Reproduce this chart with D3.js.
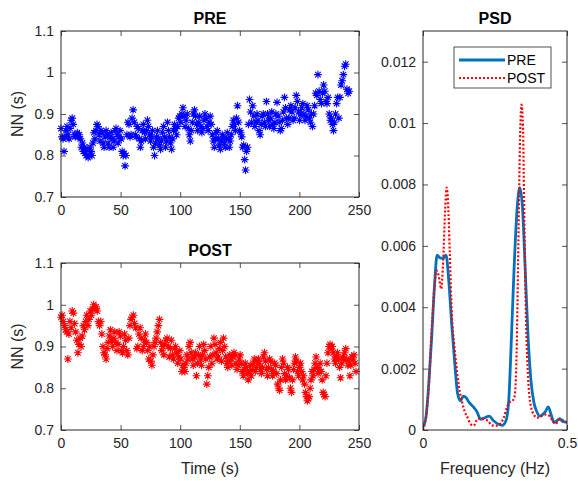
<!DOCTYPE html>
<html>
<head>
<meta charset="utf-8">
<script src="https://cdn.jsdelivr.net/npm/d3@7"></script>
<style>
  html, body { margin: 0; padding: 0; background: #fff; }
  svg { display: block; }
  text { font-family: "Liberation Sans", Arial, Helvetica, sans-serif; fill: #262626; }
</style>
</head>
<body>
<svg id="fig" width="578" height="481"></svg>
<script>
// NN intervals (s), beat by beat; time axis is their running sum
const preNN = [
  0.865, 0.845, 0.84, 0.81, 0.845, 0.86, 0.87, 0.85, 0.84, 0.865, 0.885, 0.89,
  0.875, 0.85, 0.845, 0.85, 0.855, 0.845, 0.85, 0.84, 0.82, 0.83, 0.81, 0.82,
  0.805, 0.80, 0.815, 0.795, 0.80, 0.82, 0.81, 0.80, 0.83, 0.855, 0.84, 0.86,
  0.875, 0.87, 0.85, 0.835, 0.86, 0.855, 0.83, 0.82, 0.845, 0.86, 0.85, 0.83,
  0.82, 0.845, 0.855, 0.84, 0.82, 0.835, 0.86, 0.865, 0.85, 0.83, 0.845, 0.86,
  0.84, 0.81, 0.80, 0.805, 0.775, 0.80, 0.85, 0.88, 0.875, 0.845, 0.85, 0.89,
  0.91, 0.88, 0.85, 0.845, 0.87, 0.865, 0.84, 0.82, 0.835, 0.86, 0.875, 0.855,
  0.84, 0.86, 0.885, 0.87, 0.85, 0.835, 0.845, 0.86, 0.82, 0.80, 0.83, 0.845,
  0.86, 0.84, 0.825, 0.815, 0.835, 0.855, 0.87, 0.845, 0.82, 0.835, 0.88, 0.86,
  0.845, 0.83, 0.815, 0.84, 0.86, 0.875, 0.865, 0.85, 0.87, 0.89, 0.895, 0.88,
  0.90, 0.915, 0.895, 0.87, 0.885, 0.90, 0.865, 0.85, 0.835, 0.86, 0.88,
  0.90, 0.91, 0.895, 0.875, 0.86, 0.88, 0.895, 0.87, 0.855, 0.865, 0.885,
  0.90, 0.89, 0.87, 0.86, 0.88, 0.895, 0.875, 0.85, 0.835, 0.82, 0.84, 0.855,
  0.86, 0.84, 0.825, 0.815, 0.835, 0.85, 0.845, 0.83, 0.82, 0.84, 0.855, 0.84,
  0.82, 0.835, 0.85, 0.87, 0.885, 0.875, 0.86, 0.89, 0.92, 0.88, 0.86, 0.855,
  0.845, 0.82, 0.825, 0.79, 0.765, 0.81, 0.82, 0.875, 0.935, 0.905, 0.88, 0.92,
  0.895, 0.87, 0.88, 0.90, 0.885, 0.86, 0.85, 0.875, 0.895, 0.90, 0.88, 0.87,
  0.93, 0.90, 0.885, 0.87, 0.89, 0.905, 0.875, 0.865, 0.88, 0.90, 0.928, 0.895,
  0.88, 0.86, 0.865, 0.885, 0.905, 0.94, 0.915, 0.89, 0.875, 0.89, 0.91,
  0.92, 0.905, 0.885, 0.89, 0.915, 0.945, 0.93, 0.905, 0.885, 0.90, 0.915,
  0.925, 0.90, 0.885, 0.895, 0.92, 0.91, 0.89, 0.88, 0.90, 0.87, 0.90,
  0.92, 0.95, 0.945, 0.995, 0.955, 0.935, 0.925, 0.95, 0.97, 0.955, 0.93,
  0.925, 0.94, 0.90, 0.885, 0.89, 0.875, 0.86, 0.88, 0.90, 0.925, 0.94,
  0.89, 0.94, 0.97, 0.98, 0.995, 1.015, 1.02, 0.96, 0.95, 0.955
];

const postNN = [
  0.97, 0.975, 0.96, 0.95, 0.94, 0.935, 0.87, 0.93, 0.96, 0.945, 0.985,
  0.98, 0.955, 0.935, 0.915, 0.885, 0.905, 0.92, 0.90, 0.925, 0.95, 0.94,
  0.96, 0.975, 0.95, 0.965, 0.985, 0.975, 0.99, 1.0, 0.99, 0.995,
  0.985, 0.96, 0.95, 0.96, 0.93, 0.90, 0.885, 0.88, 0.87, 0.895, 0.91,
  0.925, 0.94, 0.915, 0.90, 0.92, 0.935, 0.91, 0.89, 0.905, 0.935, 0.925,
  0.89, 0.885, 0.90, 0.93, 0.915, 0.89, 0.88, 0.92, 0.95, 0.965, 0.97,
  0.975, 0.955, 0.945, 0.895, 0.90, 0.93, 0.945, 0.92, 0.89, 0.90, 0.915,
  0.93, 0.91, 0.89, 0.87, 0.90, 0.865, 0.855, 0.88, 0.90, 0.91, 0.92,
  0.935, 0.95, 0.965, 0.91, 0.89, 0.90, 0.88, 0.905, 0.915, 0.92, 0.90,
  0.875, 0.895, 0.915, 0.88, 0.87, 0.895, 0.90, 0.885, 0.86, 0.875, 0.89,
  0.87, 0.84, 0.855, 0.85, 0.84, 0.86, 0.88, 0.87, 0.90, 0.91, 0.885,
  0.87, 0.855, 0.875, 0.885, 0.83, 0.86, 0.88, 0.90, 0.87, 0.855, 0.88, 0.905,
  0.89, 0.87, 0.81, 0.83, 0.85, 0.875, 0.90, 0.86, 0.88, 0.92, 0.905,
  0.885, 0.87, 0.875, 0.895, 0.91, 0.865, 0.89, 0.92, 0.90, 0.875, 0.86,
  0.85, 0.865, 0.88, 0.87, 0.855, 0.875, 0.885, 0.88, 0.86, 0.845, 0.855, 0.87,
  0.88, 0.86, 0.84, 0.83, 0.845, 0.86, 0.85, 0.835, 0.82, 0.84, 0.855, 0.83,
  0.845, 0.86, 0.87, 0.84, 0.85, 0.865, 0.87, 0.86, 0.845, 0.835, 0.85,
  0.875, 0.885, 0.865, 0.845, 0.83, 0.85, 0.87, 0.865, 0.845, 0.83, 0.84, 0.86,
  0.855, 0.835, 0.81, 0.80, 0.795, 0.82, 0.85, 0.87, 0.86, 0.835, 0.82, 0.83,
  0.85, 0.845, 0.825, 0.80, 0.79, 0.82, 0.845, 0.86, 0.875, 0.865, 0.84, 0.83,
  0.85, 0.86, 0.84, 0.82, 0.83, 0.81, 0.79, 0.78, 0.77, 0.775, 0.78, 0.80,
  0.82, 0.84, 0.83, 0.845, 0.86, 0.875, 0.85, 0.835, 0.845, 0.86, 0.84, 0.82,
  0.79, 0.785, 0.78, 0.83, 0.86, 0.885, 0.90, 0.905, 0.895, 0.90, 0.885,
  0.87, 0.86, 0.875, 0.885, 0.87, 0.85, 0.825, 0.86, 0.875, 0.87, 0.885, 0.895,
  0.87, 0.855, 0.865, 0.83, 0.855, 0.875, 0.87, 0.88, 0.86, 0.84
];

// power spectral density
const preFreq = [0, 0.01, 0.02, 0.03, 0.04, 0.049, 0.06, 0.07, 0.08, 0.09, 0.10, 0.11, 0.12, 0.13, 0.14, 0.15,
  0.16, 0.175, 0.187, 0.20, 0.215, 0.23, 0.245, 0.26, 0.275, 0.288, 0.298, 0.307, 0.316, 0.326, 0.336,
  0.345, 0.355, 0.365, 0.375, 0.385, 0.395, 0.405, 0.415, 0.425, 0.435, 0.445, 0.455, 0.465, 0.475, 0.485, 0.50];
const prePsd = [0.0001, 0.0004, 0.0015, 0.003, 0.0047, 0.0057, 0.0056, 0.0056, 0.0057, 0.0048, 0.0034, 0.0022,
  0.0012, 0.00095, 0.0011, 0.00105, 0.0009, 0.00075, 0.0006, 0.00035, 0.0004, 0.00045, 0.0003, 0.0002, 0.00015,
  0.0003, 0.001, 0.003, 0.0052, 0.0071, 0.0079, 0.0073, 0.0052, 0.003, 0.0016, 0.0009, 0.0006, 0.00045, 0.0005,
  0.0006, 0.00075, 0.0005, 0.00025, 0.0003, 0.00037, 0.00028, 0.00025];

const postFreq = [0, 0.01, 0.02, 0.03, 0.04, 0.047, 0.055, 0.063, 0.07, 0.077, 0.082, 0.087, 0.093, 0.10, 0.108,
  0.116, 0.125, 0.136, 0.145, 0.155, 0.165, 0.176, 0.185, 0.195, 0.21, 0.225, 0.24, 0.255, 0.268, 0.28, 0.29,
  0.30, 0.31, 0.318, 0.325, 0.331, 0.337, 0.342, 0.347, 0.352, 0.358, 0.365, 0.374, 0.385, 0.395, 0.41, 0.425,
  0.44, 0.45, 0.46, 0.475, 0.49, 0.50];
const postPsd = [0, 0.0004, 0.0014, 0.0032, 0.0047, 0.0052, 0.005, 0.0046, 0.0055, 0.0072, 0.0079, 0.0074, 0.0058,
  0.0038, 0.0028, 0.0021, 0.0014, 0.0009, 0.0006, 0.0004, 0.0002, 0.00014, 0.0003, 0.00037, 0.00035, 0.0003,
  0.00015, 0.00014, 0.0002, 0.0004, 0.0007, 0.0009, 0.00095, 0.0011, 0.0025, 0.006, 0.0095, 0.0106, 0.0099,
  0.0068, 0.0035, 0.0017, 0.0008, 0.0005, 0.0004, 0.00045, 0.0005, 0.00045, 0.0003, 0.0002, 0.00035, 0.0003, 0.00025];

const timeTicks = [0, 50, 100, 150, 200, 250];
const nnTicks = [0.7, 0.8, 0.9, 1, 1.1];
const freqTicks = [0, 0.5];
const psdTicks = [0, 0.002, 0.004, 0.006, 0.008, 0.01, 0.012];
const legendNames = ["PRE", "POST"];

const svg = d3.select("#fig");
const axisColor = "#262626";

function toSeries(nn) {
    let t = 0;
    return nn.map((v, i) => {
        if (i > 0) t += nn[i - 1];
        return { t: t, nn: v };
    });
}

// MATLAB-like box axes with inward ticks on all four sides
function drawFrame(g, x, y, xTicks, yTicks, w, h) {
    const tick = 5;
    g.append("g")
        .attr("transform", `translate(0,${h})`)
        .call(d3.axisBottom(x).tickValues(xTicks).tickSizeInner(-tick).tickSizeOuter(0)
            .tickPadding(8).tickFormat(d => String(d)));
    g.append("g")
        .call(d3.axisTop(x).tickValues(xTicks).tickSizeInner(-tick).tickSizeOuter(0).tickFormat(""));
    g.append("g")
        .call(d3.axisLeft(y).tickValues(yTicks).tickSizeInner(-tick).tickSizeOuter(0)
            .tickPadding(7).tickFormat(d => String(d)));
    g.append("g")
        .attr("transform", `translate(${w},0)`)
        .call(d3.axisRight(y).tickValues(yTicks).tickSizeInner(-tick).tickSizeOuter(0).tickFormat(""));

    g.selectAll(".domain").remove();
    g.selectAll(".tick line").attr("stroke", axisColor).attr("stroke-width", 0.8);
    g.selectAll(".tick text")
        .attr("font-family", null)
        .style("font-size", "14px")
        .style("fill", axisColor);
    g.append("rect")
        .attr("width", w)
        .attr("height", h)
        .attr("fill", "none")
        .attr("stroke", axisColor)
        .attr("stroke-width", 1);
}

function starPath(r) {
    const d = r * 0.72;
    return `M${-r},0H${r}M0,${-r}V${r}M${-d},${-d}L${d},${d}M${-d},${d}L${d},${-d}`;
}

function scatterPanel(left, top, w, h, nn, color, title, showXLabel) {
    const g = svg.append("g").attr("transform", `translate(${left},${top})`);
    const x = d3.scaleLinear().domain([0, 250]).range([0, w]);
    const y = d3.scaleLinear().domain([0.7, 1.1]).range([h, 0]);
    const data = toSeries(nn);

    g.append("g").selectAll("path")
        .data(data)
        .join("path")
        .attr("transform", d => `translate(${x(d.t)},${y(d.nn)})`)
        .attr("d", starPath(3.9))
        .attr("fill", "none")
        .attr("stroke", color)
        .attr("stroke-width", 1.1);

    drawFrame(g, x, y, timeTicks, nnTicks, w, h);

    g.append("text")
        .attr("x", w / 2)
        .attr("y", -7)
        .attr("text-anchor", "middle")
        .style("font-size", "16px")
        .style("font-weight", "bold")
        .style("fill", "#000")
        .text(title);

    g.append("text")
        .attr("transform", `translate(${-38},${h / 2}) rotate(-90)`)
        .attr("text-anchor", "middle")
        .style("font-size", "16px")
        .text("NN (s)");

    if (showXLabel) {
        g.append("text")
            .attr("x", w / 2)
            .attr("y", h + 44)
            .attr("text-anchor", "middle")
            .style("font-size", "16px")
            .text("Time (s)");
    }
}

function psdPanel(left, top, w, h) {
    const g = svg.append("g").attr("transform", `translate(${left},${top})`);
    const x = d3.scaleLinear().domain([0, 0.5]).range([0, w]);
    const y = d3.scaleLinear().domain([0, 0.013]).range([h, 0]);

    g.append("clipPath").attr("id", "psdClip")
        .append("rect").attr("width", w).attr("height", h);

    const line = d3.line()
        .x(d => x(d[0]))
        .y(d => y(d[1]))
        .curve(d3.curveMonotoneX);

    const plot = g.append("g").attr("clip-path", "url(#psdClip)");
    plot.append("path")
        .attr("d", line(d3.zip(preFreq, prePsd)))
        .attr("fill", "none")
        .attr("stroke", "#0072BD")
        .attr("stroke-width", 2.8);
    plot.append("path")
        .attr("d", line(d3.zip(postFreq, postPsd)))
        .attr("fill", "none")
        .attr("stroke", "#ff0000")
        .attr("stroke-width", 2.2)
        .attr("stroke-dasharray", "2,2");

    drawFrame(g, x, y, freqTicks, psdTicks, w, h);

    g.append("text")
        .attr("x", w / 2)
        .attr("y", -7)
        .attr("text-anchor", "middle")
        .style("font-size", "16px")
        .style("font-weight", "bold")
        .style("fill", "#000")
        .text("PSD");

    g.append("text")
        .attr("x", w / 2)
        .attr("y", h + 44)
        .attr("text-anchor", "middle")
        .style("font-size", "16px")
        .text("Frequency (Hz)");

    // legend
    const lg = g.append("g").attr("transform", `translate(${31},${16})`);
    lg.append("rect")
        .attr("width", 97)
        .attr("height", 41)
        .attr("fill", "#fff")
        .attr("stroke", axisColor)
        .attr("stroke-width", 0.8);
    const styles = [
        { color: "#0072BD", width: 2.8, dash: null },
        { color: "#ff0000", width: 2.2, dash: "2,2" }
    ];
    legendNames.forEach((name, i) => {
        const yy = 13 + i * 18;
        lg.append("line")
            .attr("x1", 5).attr("x2", 51)
            .attr("y1", yy).attr("y2", yy)
            .attr("stroke", styles[i].color)
            .attr("stroke-width", styles[i].width)
            .attr("stroke-dasharray", styles[i].dash);
        lg.append("text")
            .attr("x", 53)
            .attr("y", yy + 5)
            .style("font-size", "14px")
            .style("fill", "#000")
            .text(name);
    });
}

scatterPanel(61, 31, 298, 166, preNN, "#0000ff", "PRE", false);
scatterPanel(61, 263, 298, 167, postNN, "#ff0000", "POST", true);
psdPanel(423, 31, 144, 399);
</script>
</body>
</html>
